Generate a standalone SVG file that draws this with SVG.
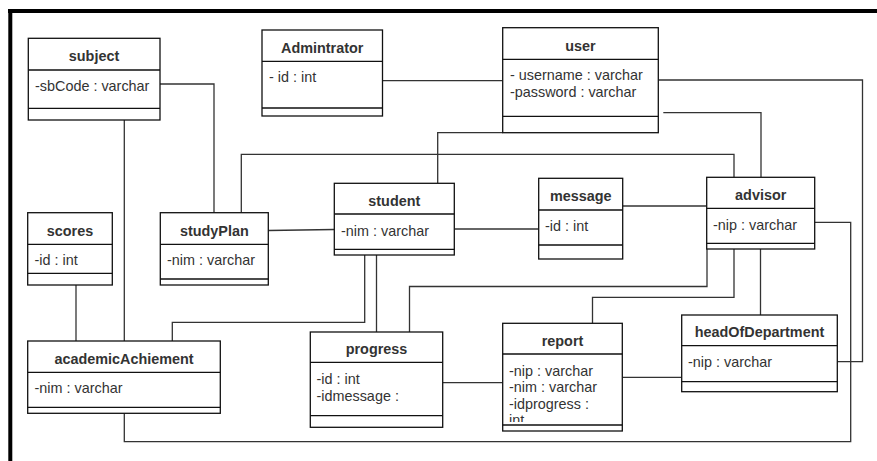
<svg xmlns="http://www.w3.org/2000/svg" width="877" height="461" viewBox="0 0 877 461">
<style>
.box{fill:#fff;stroke:#111;stroke-width:1.3}
.div{stroke:#111;stroke-width:1.3}
.h{font-family:"Liberation Sans",Arial,sans-serif;font-size:14.4px;font-weight:bold;fill:#333;text-anchor:middle}
.a{font-family:"Liberation Sans",Arial,sans-serif;font-size:14.4px;fill:#333}
.c{fill:none;stroke:#333;stroke-width:1.3}
</style>
<defs>
<clipPath id="repClip"><rect x="502" y="354" width="121" height="68"/></clipPath>
</defs>
<rect x="0" y="0" width="877" height="461" fill="#fff"/>
<path d="M8,11 H877 M10.3,9 V461" stroke="#000" stroke-width="4" fill="none"/>

<g id="connectors">
<path class="c" d="M382.5,80.7 H502.5"/>
<path class="c" d="M658.5,80 H862.5 V361.7 H837.3"/>
<path class="c" d="M663.3,112.7 H761 V177.3"/>
<path class="c" d="M502.7,132.7 H437.7 V183.3"/>
<path class="c" d="M241.3,212.7 V154.3 H734 V177.3"/>
<path class="c" d="M160,84 H214 V212.7"/>
<path class="c" d="M268.3,230.5 L334.3,229.5"/>
<path class="c" d="M454.3,229 H538.7"/>
<path class="c" d="M622.7,206 H706.7"/>
<path class="c" d="M76,285 V341"/>
<path class="c" d="M124.3,120 V341"/>
<path class="c" d="M364.7,255 V322.3 H172.3 V341"/>
<path class="c" d="M376.5,255 V332"/>
<path class="c" d="M707,249 V286.5 H409.5 V332"/>
<path class="c" d="M734,249 V297.3 H592.5 V323.3"/>
<path class="c" d="M760.5,249 V315"/>
<path class="c" d="M814.7,222.3 H850.7 V441.7 H124.3 V413.3"/>
<path class="c" d="M442.7,382.7 H502.7"/>
<path class="c" d="M622.3,377.3 H681.7"/>
</g>

<g id="subject">
<rect class="box" x="28.3" y="38.3" width="131.7" height="81.7"/>
<path class="div" d="M28.3,70 H160 M28.3,108.3 H160"/>
<text class="h" x="94" y="60.5">subject</text>
<text class="a" x="35" y="91">-sbCode : varchar</text>
</g>

<g id="admintrator">
<rect class="box" x="262" y="30" width="120.5" height="86"/>
<path class="div" d="M262,61.3 H382.5 M262,108 H382.5"/>
<text class="h" x="322.2" y="52.5">Admintrator</text>
<text class="a" x="269" y="82">- id : int</text>
</g>

<g id="user">
<rect class="box" x="502.7" y="27.7" width="155.6" height="105"/>
<path class="div" d="M502.7,59.3 H658.3 M502.7,116.3 H658.3"/>
<text class="h" x="580.5" y="50.5">user</text>
<text class="a" x="510" y="80">- username : varchar</text>
<text class="a" x="510" y="96.5">-password : varchar</text>
</g>

<g id="student">
<rect class="box" x="334.3" y="183.3" width="120" height="71.7"/>
<path class="div" d="M334.3,214 H454.3 M334.3,249.3 H454.3"/>
<text class="h" x="394.3" y="205.5">student</text>
<text class="a" x="341" y="235.5">-nim : varchar</text>
</g>

<g id="message">
<rect class="box" x="538.7" y="178.3" width="84" height="80.7"/>
<path class="div" d="M538.7,210 H622.7 M538.7,245 H622.7"/>
<text class="h" x="580.7" y="200.5">message</text>
<text class="a" x="545" y="230.5">-id : int</text>
</g>

<g id="advisor">
<rect class="box" x="706.7" y="177.3" width="108" height="71.7"/>
<path class="div" d="M706.7,208.3 H814.7 M706.7,243.3 H814.7"/>
<text class="h" x="760.7" y="199.5">advisor</text>
<text class="a" x="713" y="230">-nip : varchar</text>
</g>

<g id="studyPlan">
<rect class="box" x="160.3" y="212.7" width="108" height="72.3"/>
<path class="div" d="M160.3,244.3 H268.3 M160.3,279 H268.3"/>
<text class="h" x="214.3" y="235.5">studyPlan</text>
<text class="a" x="167" y="265">-nim : varchar</text>
</g>

<g id="scores">
<rect class="box" x="27.7" y="212.7" width="84.6" height="72.3"/>
<path class="div" d="M27.7,244.3 H112.3 M27.7,273.3 H112.3"/>
<text class="h" x="70" y="235.5">scores</text>
<text class="a" x="34.5" y="265">-id : int</text>
</g>

<g id="academicAchiement">
<rect class="box" x="27.7" y="341" width="192.6" height="72.3"/>
<path class="div" d="M27.7,372.3 H220.3 M27.7,407.3 H220.3"/>
<text class="h" x="124" y="363.5">academicAchiement</text>
<text class="a" x="34.5" y="393">-nim : varchar</text>
</g>

<g id="progress">
<rect class="box" x="310.3" y="332" width="132.4" height="95.3"/>
<path class="div" d="M310.3,362.3 H442.7 M310.3,415.7 H442.7"/>
<text class="h" x="376.5" y="354">progress</text>
<text class="a" x="316.5" y="384">-id : int</text>
<text class="a" x="316.5" y="400.5">-idmessage :</text>
</g>

<g id="report">
<rect class="box" x="502.7" y="323.3" width="119.6" height="107.7"/>
<text class="h" x="562.5" y="345.5">report</text>
<text class="a" x="509" y="375.5">-nip : varchar</text>
<text class="a" x="509" y="392">-nim : varchar</text>
<text class="a" x="509" y="408.5">-idprogress :</text>
<text class="a" x="509" y="425" clip-path="url(#repClip)">int</text>
<path class="div" d="M502.7,354 H622.3 M502.7,425 H622.3"/>
</g>

<g id="headOfDepartment">
<rect class="box" x="681.7" y="315" width="155.6" height="76.7"/>
<path class="div" d="M681.7,345.7 H837.3 M681.7,381.7 H837.3"/>
<text class="h" x="759.5" y="337">headOfDepartment</text>
<text class="a" x="688" y="366.5">-nip : varchar</text>
</g>
</svg>
